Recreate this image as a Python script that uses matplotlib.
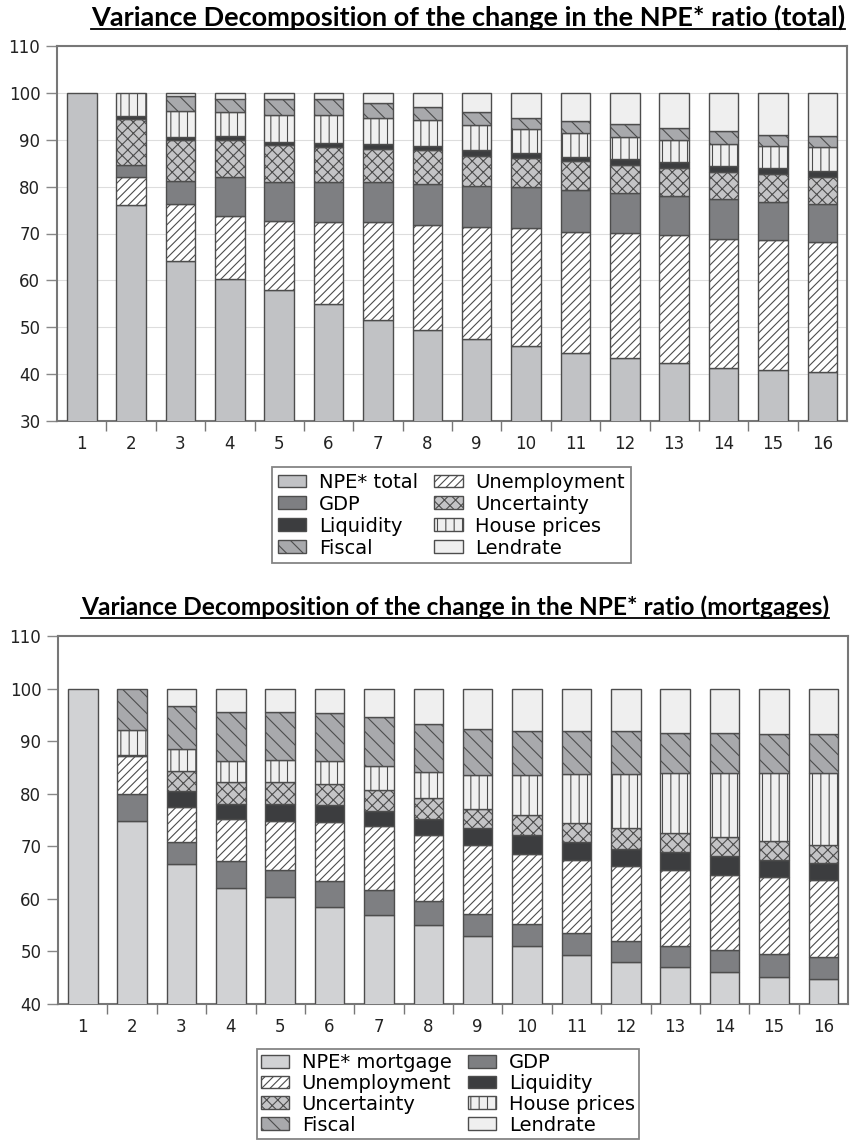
import matplotlib
matplotlib.use("Agg")
import matplotlib.pyplot as plt
import numpy as np
from matplotlib.patches import Patch
from matplotlib.lines import Line2D

# ---------------- data ----------------
horizons = [str(i) for i in range(1, 17)]

# Top chart (total) - stacking order bottom->top
top_names = ["NPE* total", "Unemployment", "GDP", "Uncertainty",
             "Liquidity", "House prices", "Fiscal", "Lendrate"]
top_npe = [100, 76.1, 64.1, 60.4, 57.9, 54.9, 51.6, 49.4, 47.5, 45.9, 44.5, 43.4, 42.4, 41.4, 40.9, 40.4]
top_unemp = [0, 6.0, 12.2, 13.4, 14.7, 17.5, 20.8, 22.5, 23.8, 25.2, 25.9, 26.8, 27.2, 27.4, 27.7, 27.7]
top_gdp = [0, 2.5, 4.8, 8.2, 8.3, 8.5, 8.5, 8.7, 8.9, 8.8, 8.9, 8.4, 8.3, 8.6, 8.2, 8.2]
top_uncert = [0, 9.8, 8.8, 8.0, 7.9, 7.5, 7.2, 7.3, 6.4, 6.2, 6.1, 6.1, 6.1, 5.8, 5.9, 5.7]
top_liq = [0, 0.6, 0.7, 0.9, 0.7, 0.9, 0.9, 0.7, 1.3, 1.0, 0.9, 1.2, 1.2, 1.3, 1.3, 1.3]
top_house = [0, 5.0, 5.5, 5.0, 5.7, 5.9, 5.7, 5.7, 5.2, 5.3, 5.1, 4.7, 4.8, 4.6, 4.6, 5.1]
top_fiscal = [0, 0.0, 3.2, 2.9, 3.6, 3.4, 3.2, 2.6, 2.8, 2.3, 2.6, 2.7, 2.5, 2.7, 2.5, 2.4]
top_lend = [0, 0.0, 0.7, 1.2, 1.2, 1.4, 2.1, 3.1, 4.1, 5.3, 6.0, 6.7, 7.5, 8.2, 8.9, 9.2]

# Bottom chart (mortgages) - stacking order bottom->top
bot_names = ["NPE* mortgage", "GDP", "Unemployment", "Liquidity",
             "Uncertainty", "House prices", "Fiscal", "Lendrate"]
bot_npe = [100, 74.9, 66.7, 62.0, 60.3, 58.4, 57.0, 55.1, 53.0, 51.1, 49.4, 47.9, 47.0, 46.0, 45.2, 44.8]
bot_gdp = [0, 5.0, 4.1, 5.2, 5.2, 5.0, 4.7, 4.5, 4.1, 4.1, 4.1, 4.0, 4.0, 4.3, 4.3, 4.1]
bot_unemp = [0, 7.2, 6.7, 7.9, 9.4, 11.3, 12.1, 12.5, 13.1, 13.4, 13.8, 14.4, 14.4, 14.3, 14.6, 14.6]
bot_liq = [0, 0.3, 3.1, 2.9, 3.2, 3.1, 3.0, 3.1, 3.3, 3.5, 3.5, 3.2, 3.5, 3.5, 3.3, 3.4]
bot_uncert = [0, 0.0, 3.8, 4.2, 4.1, 4.1, 4.0, 4.0, 3.6, 3.8, 3.7, 4.0, 3.7, 3.6, 3.6, 3.4]
bot_house = [0, 4.7, 4.2, 4.1, 4.3, 4.3, 4.4, 4.9, 6.4, 7.7, 9.3, 10.3, 11.3, 12.2, 12.9, 13.6]
bot_fiscal = [0, 7.9, 8.1, 9.3, 9.1, 9.2, 9.3, 9.1, 8.9, 8.3, 8.1, 8.1, 7.7, 7.7, 7.5, 7.4]
bot_lend = [0, 0.0, 3.3, 4.4, 4.4, 4.6, 5.5, 6.8, 7.6, 8.1, 8.1, 8.1, 8.4, 8.4, 8.6, 8.7]

top_title = "Variance Decomposition of the change in the NPE* ratio (total)"
bot_title = "Variance Decomposition of the change in the NPE* ratio (mortgages)"

# ---------------- styles ----------------
EDGE = "#4d4d4d"
styles = {
    "NPE* total": dict(facecolor="#c1c2c5", hatch=None),
    "NPE* mortgage": dict(facecolor="#d1d2d4", hatch=None),
    "GDP": dict(facecolor="#7e7f82", hatch=None),
    "Liquidity": dict(facecolor="#3c3d3f", hatch=None),
    "Fiscal": dict(facecolor="#a8a9ac", hatch="\\\\"),
    "Unemployment": dict(facecolor="#ffffff", hatch="////"),
    "Uncertainty": dict(facecolor="#c4c4c6", hatch="xxx"),
    "House prices": dict(facecolor="#f0f0f0", hatch="||"),
    "Lendrate": dict(facecolor="#efefef", hatch=None),
}

plt.rcParams["font.family"] = ["DejaVu Sans"]
plt.rcParams["hatch.linewidth"] = 0.8

W, H = 857, 1144
fig = plt.figure(figsize=(W / 100, H / 100), dpi=100)


def make_axes(left, right, top, bottom):
    return fig.add_axes([left / W, 1 - bottom / H, (right - left) / W, (bottom - top) / H])


def draw(ax, names, series, ylim, grid):
    x = np.arange(1, len(horizons) + 1)
    base = np.zeros(len(horizons))
    handles = []
    for name, vals in zip(names, series):
        st = styles[name]
        v = np.array(vals, dtype=float)
        m = v > 0
        ax.bar(x[m], v[m], bottom=base[m], width=0.6, facecolor=st["facecolor"],
               edgecolor=EDGE, linewidth=1.0, hatch=st["hatch"], zorder=3)
        base = base + v
        handles.append(Patch(facecolor=st["facecolor"], edgecolor=EDGE,
                             linewidth=1.0, hatch=st["hatch"], label=name))
    ax.set_xlim(0.5, len(horizons) + 0.5)
    ax.set_ylim(*ylim)
    ax.set_yticks(np.arange(ylim[0], ylim[1] + 1, 10))
    ax.set_xticks(x)
    ax.set_xticklabels(horizons)
    ax.set_xticks(np.arange(1.5, len(horizons), 1), minor=True)
    ax.tick_params(axis="x", which="major", length=0, pad=10, labelsize=12, colors="#222222")
    ax.tick_params(axis="x", which="minor", length=7, width=1.0, color="#777777", direction="out")
    ax.tick_params(axis="y", length=8, width=1.0, color="#888888", labelsize=12,
                   labelcolor="#222222", pad=4)
    for s in ax.spines.values():
        s.set_color("#777777")
        s.set_linewidth(1.5)
    if grid:
        ax.yaxis.grid(True, color="#dddddd", linewidth=0.8, zorder=0)
    ax.set_axisbelow(True)
    return handles


ax1 = make_axes(57, 847, 46, 421)
h1 = draw(ax1, top_names,
          [top_npe, top_unemp, top_gdp, top_uncert, top_liq, top_house, top_fiscal, top_lend],
          (30, 110), True)
ax2 = make_axes(58, 848, 636, 1004)
h2 = draw(ax2, bot_names,
          [bot_npe, bot_gdp, bot_unemp, bot_liq, bot_uncert, bot_house, bot_fiscal, bot_lend],
          (40, 110), False)

# legends: row-wise fill -> reorder for column-first matplotlib
def rowwise(h):
    return [h[i] for i in (0, 2, 4, 6, 1, 3, 5, 7)]

leg_kw = dict(ncol=2, fontsize=14, frameon=True, fancybox=False, handlelength=1.45,
              handleheight=0.65, columnspacing=0.85, handletextpad=0.65,
              borderaxespad=0.0)
l1 = fig.legend(handles=rowwise(h1), loc="upper left", labelspacing=0.15, borderpad=0.3,
                bbox_to_anchor=(272 / W, 1 - 467 / H), **leg_kw)
l2 = fig.legend(handles=rowwise(h2), loc="upper left", labelspacing=0.1, borderpad=0.2,
                bbox_to_anchor=(257 / W, 1 - 1049 / H), **leg_kw)
for l in (l1, l2):
    l.get_frame().set_edgecolor("#666666")
    l.get_frame().set_linewidth(1.3)

# titles with underline, scaled to match width
def title(txt, x0, x1, ycenter, size):
    t = fig.text((x0 + x1) / 2 / W, 1 - ycenter / H, txt, ha="center", va="center",
                 fontsize=size, fontweight="bold", family=["Lato", "DejaVu Sans"])
    fig.canvas.draw()
    bb = t.get_window_extent()
    t.set_fontsize(size * (x1 - x0) / bb.width)
    fig.canvas.draw()
    bb = t.get_window_extent()
    yline = bb.y0 + 1
    fig.add_artist(Line2D([bb.x0 / W, bb.x1 / W], [yline / H, yline / H],
                          transform=fig.transFigure, color="black", linewidth=1.3))

title(top_title, 88, 848, 17, 14)
title(bot_title, 80, 830, 607, 14)

fig.savefig("out.png", dpi=100)
